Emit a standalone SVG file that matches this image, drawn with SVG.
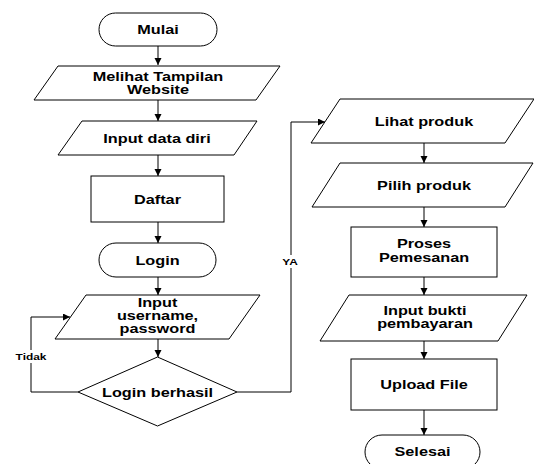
<svg xmlns="http://www.w3.org/2000/svg" width="534" height="464" viewBox="0 0 534 464">
<defs>
<style>
.s{fill:#fff;stroke:#000;stroke-width:1}
.t{font-family:"Liberation Sans",Arial,sans-serif;font-weight:bold;font-size:13px;text-anchor:middle;fill:#000}
.l{font-family:"Liberation Sans",Arial,sans-serif;font-weight:bold;font-size:9.5px;text-anchor:middle;fill:#000}
.c{fill:none;stroke:#000;stroke-width:1}
.bg{fill:#fff}
</style>
<marker id="ah" markerWidth="8" markerHeight="8" refX="7" refY="3.5" orient="auto" markerUnits="userSpaceOnUse">
<path d="M0,0 L7,3.5 L0,7 Z" fill="#000"/>
</marker>
</defs>
<rect width="534" height="464" fill="#fff"/>
<g id="connectors">
<path class="c" d="M158,46 V65" marker-end="url(#ah)"/>
<path class="c" d="M158,100 V121" marker-end="url(#ah)"/>
<path class="c" d="M158,155 V176" marker-end="url(#ah)"/>
<path class="c" d="M158,222 V243" marker-end="url(#ah)"/>
<path class="c" d="M158,277 V295" marker-end="url(#ah)"/>
<path class="c" d="M158,339 V357" marker-end="url(#ah)"/>
<path class="c" d="M78,392 H31 V317 H70" marker-end="url(#ah)"/>
<path class="c" d="M237,392 H291 V122 H325" marker-end="url(#ah)"/>
<path class="c" d="M424,143 V163" marker-end="url(#ah)"/>
<path class="c" d="M424,207 V227" marker-end="url(#ah)"/>
<path class="c" d="M424,277 V295" marker-end="url(#ah)"/>
<path class="c" d="M424,341 V359" marker-end="url(#ah)"/>
<path class="c" d="M424,410 V435" marker-end="url(#ah)"/>
<rect class="bg" x="13" y="350" width="36" height="13"/>
<text class="l" transform="translate(31,360) scale(1.25,1)">Tidak</text>
<rect class="bg" x="281" y="255" width="20" height="13"/>
<text class="l" transform="translate(290,265) scale(1.25,1)">YA</text>
</g>
<g id="mulai">
<rect class="s" x="99" y="13" width="118" height="33" rx="16.5"/>
<text class="t" transform="translate(158,34) scale(1.25,1)">Mulai</text>
</g>
<g id="melihat">
<polygon class="s" points="58,66 280,66 256,100 34,100"/>
<text class="t" transform="translate(158,81) scale(1.25,1)"><tspan x="0">Melihat Tampilan</tspan><tspan x="0" dy="13">Website</tspan></text>
</g>
<g id="input-data">
<polygon class="s" points="82,121 257,121 234,155 58,155"/>
<text class="t" transform="translate(157,142.5) scale(1.25,1)">Input data diri</text>
</g>
<g id="daftar">
<rect class="s" x="91" y="176" width="133" height="46"/>
<text class="t" transform="translate(157.5,203.5) scale(1.25,1)">Daftar</text>
</g>
<g id="login">
<rect class="s" x="99" y="243" width="117" height="34" rx="17"/>
<text class="t" transform="translate(157.5,264.5) scale(1.25,1)">Login</text>
</g>
<g id="input-user">
<polygon class="s" points="86,295 260,295 229,339 55,339"/>
<text class="t" transform="translate(157.5,307) scale(1.25,1)"><tspan x="0">Input</tspan><tspan x="0" dy="13.5">username,</tspan><tspan x="0" dy="13">password</tspan></text>
</g>
<g id="login-berhasil">
<polygon class="s" points="157.5,357 237,392 157.5,426 78,392"/>
<text class="t" transform="translate(157.5,396.5) scale(1.25,1)">Login berhasil</text>
</g>
<g id="lihat">
<polygon class="s" points="340,99 534,99 505,143 311,143"/>
<text class="t" transform="translate(424,125.5) scale(1.25,1)">Lihat produk</text>
</g>
<g id="pilih">
<polygon class="s" points="340,163 533,163 505,207 312,207"/>
<text class="t" transform="translate(424,189.5) scale(1.25,1)">Pilih produk</text>
</g>
<g id="proses">
<rect class="s" x="351" y="227" width="146" height="50"/>
<text class="t" transform="translate(424,248) scale(1.25,1)"><tspan x="0">Proses</tspan><tspan x="0" dy="14">Pemesanan</tspan></text>
</g>
<g id="input-bukti">
<polygon class="s" points="349,295 527,295 498,341 320,341"/>
<text class="t" transform="translate(425,315) scale(1.25,1)"><tspan x="0">Input bukti</tspan><tspan x="0" dy="13">pembayaran</tspan></text>
</g>
<g id="upload">
<rect class="s" x="351" y="359" width="146" height="51"/>
<text class="t" transform="translate(424,389) scale(1.25,1)">Upload File</text>
</g>
<g id="selesai">
<rect class="s" x="365" y="435" width="115" height="34" rx="17"/>
<text class="t" transform="translate(422.5,455.5) scale(1.25,1)">Selesai</text>
</g>
</svg>
